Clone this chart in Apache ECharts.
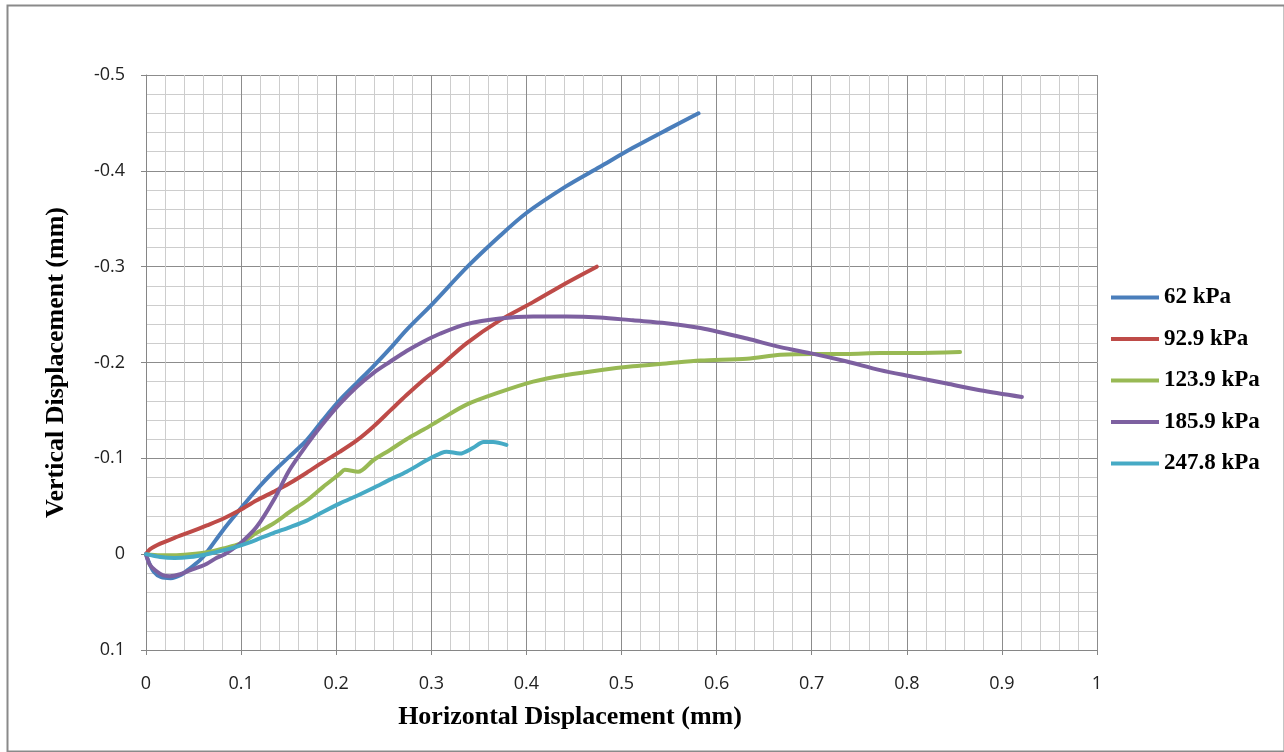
<!DOCTYPE html>
<html>
<head>
<meta charset="utf-8">
<script src="https://cdn.jsdelivr.net/npm/echarts@6/dist/echarts.min.js"></script>
<style>
  html, body { margin: 0; padding: 0; background: #ffffff; }
  #chart { width: 1284px; height: 752px; }
</style>
</head>
<body>
<div id="chart"></div>
<script>
// Horizontal vs vertical displacement under five normal stresses (mm)
const seriesNames = ['62 kPa', '92.9 kPa', '123.9 kPa', '185.9 kPa', '247.8 kPa'];
const seriesColors = ['#4A7EBB', '#BE4B48', '#98B954', '#7D60A0', '#46AAC5'];

const s62 = [[0,0],[0.002,0.006],[0.008,0.018],[0.016,0.024],[0.026,0.025],[0.036,0.022],[0.046,0.015],[0.057,0.006],[0.064,-0.002],[0.081,-0.025],[0.099,-0.047],[0.116,-0.067],[0.134,-0.086],[0.151,-0.102],[0.169,-0.119],[0.186,-0.140],[0.204,-0.161],[0.222,-0.179],[0.239,-0.196],[0.257,-0.215],[0.274,-0.234],[0.302,-0.262],[0.337,-0.299],[0.372,-0.332],[0.400,-0.356],[0.442,-0.384],[0.477,-0.404],[0.512,-0.424],[0.548,-0.443],[0.581,-0.460]];

const s929 = [[0,0],[0.004,-0.005],[0.015,-0.011],[0.030,-0.017],[0.046,-0.023],[0.064,-0.030],[0.081,-0.037],[0.099,-0.046],[0.116,-0.056],[0.134,-0.065],[0.151,-0.074],[0.169,-0.085],[0.186,-0.096],[0.204,-0.107],[0.222,-0.119],[0.239,-0.133],[0.257,-0.150],[0.274,-0.166],[0.292,-0.182],[0.309,-0.196],[0.337,-0.220],[0.372,-0.244],[0.407,-0.263],[0.442,-0.283],[0.474,-0.300]];

const s1239 = [[0,0],[0.015,0.001],[0.029,0.001],[0.046,0.000],[0.064,-0.002],[0.081,-0.006],[0.099,-0.011],[0.116,-0.022],[0.134,-0.032],[0.151,-0.044],[0.169,-0.056],[0.186,-0.070],[0.204,-0.084],[0.209,-0.088],[0.223,-0.086],[0.239,-0.098],[0.257,-0.109],[0.274,-0.120],[0.292,-0.130],[0.309,-0.140],[0.337,-0.156],[0.372,-0.169],[0.407,-0.180],[0.442,-0.187],[0.477,-0.192],[0.512,-0.196],[0.547,-0.199],[0.583,-0.202],[0.632,-0.204],[0.667,-0.208],[0.702,-0.209],[0.737,-0.209],[0.772,-0.210],[0.807,-0.210],[0.856,-0.211]];

const s1859 = [[0,0],[0.004,0.011],[0.010,0.017],[0.018,0.022],[0.025,0.023],[0.036,0.021],[0.046,0.017],[0.057,0.013],[0.064,0.010],[0.074,0.004],[0.081,0.001],[0.092,-0.006],[0.099,-0.011],[0.116,-0.028],[0.134,-0.056],[0.151,-0.088],[0.169,-0.114],[0.186,-0.136],[0.204,-0.157],[0.222,-0.175],[0.239,-0.189],[0.257,-0.201],[0.274,-0.212],[0.292,-0.222],[0.309,-0.230],[0.337,-0.240],[0.372,-0.246],[0.407,-0.248],[0.442,-0.248],[0.477,-0.247],[0.512,-0.244],[0.547,-0.241],[0.583,-0.236],[0.632,-0.225],[0.667,-0.216],[0.702,-0.209],[0.737,-0.201],[0.772,-0.192],[0.807,-0.185],[0.842,-0.178],[0.877,-0.171],[0.921,-0.164]];

const s2478 = [[0,0],[0.015,0.003],[0.030,0.004],[0.046,0.003],[0.064,0.000],[0.081,-0.004],[0.099,-0.009],[0.116,-0.015],[0.134,-0.022],[0.151,-0.028],[0.169,-0.035],[0.186,-0.044],[0.204,-0.053],[0.222,-0.061],[0.239,-0.069],[0.257,-0.078],[0.274,-0.086],[0.299,-0.100],[0.316,-0.107],[0.330,-0.105],[0.344,-0.111],[0.355,-0.117],[0.365,-0.117],[0.379,-0.114]];

const allData = [s62, s929, s1239, s1859, s2478];

const xTitle = 'Horizontal Displacement (mm)';
const yTitle = 'Vertical Displacement (mm)';

const tickFmt = v => String(parseFloat(v.toFixed(1)));

const majorLine = { show: true, lineStyle: { color: '#8C8C8C', width: 1 } };
const minorLine = { show: true, lineStyle: { color: '#CDCDCD', width: 1 } };
const minorTickCfg = { show: true, splitNumber: 5, length: 0, lineStyle: { width: 0, color: 'transparent' } };
const tickFont = { color: '#222', fontSize: 18, fontFamily: 'Open Sans' };
const titleFont = { fontFamily: 'Liberation Serif', fontWeight: 'bold', fontSize: 26, color: '#000' };

const chart = echarts.init(document.getElementById('chart'), null, { renderer: 'canvas' });

chart.setOption({
  animation: false,
  backgroundColor: '#ffffff',
  grid: { left: 146, right: 187, top: 75, bottom: 102, containLabel: false },
  legend: {
    orient: 'vertical',
    left: 1111,
    top: 286,
    padding: 0,
    itemWidth: 48,
    itemHeight: 20,
    itemGap: 18.5,
    data: seriesNames.map((n, i) => ({
      name: n,
      icon: 'path://M0,8 L48,8 L48,12 L0,12 Z',
      itemStyle: { color: seriesColors[i] }
    })),
    textStyle: { fontFamily: 'Liberation Serif', fontWeight: 'bold', fontSize: 23, color: '#000' }
  },
  xAxis: {
    type: 'value',
    min: 0, max: 1, interval: 0.1,
    axisLine: { show: true, onZero: false, lineStyle: { color: '#868686', width: 1 } },
    axisTick: { show: true, length: 5, lineStyle: { color: '#868686' } },
    axisLabel: { formatter: tickFmt, margin: 25, ...tickFont },
    splitLine: majorLine,
    minorTick: minorTickCfg,
    minorSplitLine: minorLine
  },
  yAxis: {
    type: 'value',
    inverse: true,
    min: -0.5, max: 0.1, interval: 0.1,
    name: yTitle,
    nameLocation: 'middle',
    nameGap: 77,
    nameTextStyle: { ...titleFont },
    axisLine: { show: true, onZero: false, lineStyle: { color: '#868686', width: 1 } },
    axisTick: { show: true, length: 5, lineStyle: { color: '#868686' } },
    axisLabel: { formatter: tickFmt, margin: 21, ...tickFont },
    splitLine: majorLine,
    minorTick: minorTickCfg,
    minorSplitLine: minorLine
  },
  graphic: [
    {
      type: 'rect',
      left: 5, top: 3,
      shape: { width: 1277, height: 746 },
      style: { fill: 'none', stroke: '#8A8A8A', lineWidth: 2 },
      silent: true
    },
    {
      type: 'text',
      x: 570, y: 717,
      style: {
        text: xTitle,
        ...titleFont,
        fill: '#000', align: 'center', verticalAlign: 'middle'
      },
      silent: true
    }
  ],
  series: allData.map((d, i) => ({
    name: seriesNames[i],
    type: 'line',
    data: d,
    symbol: 'none',
    smooth: 0.3,
    lineStyle: { color: seriesColors[i], width: 4, cap: 'round', join: 'round' },
    itemStyle: { color: seriesColors[i] },
    z: 2 + i
  }))
});
</script>
</body>
</html>
